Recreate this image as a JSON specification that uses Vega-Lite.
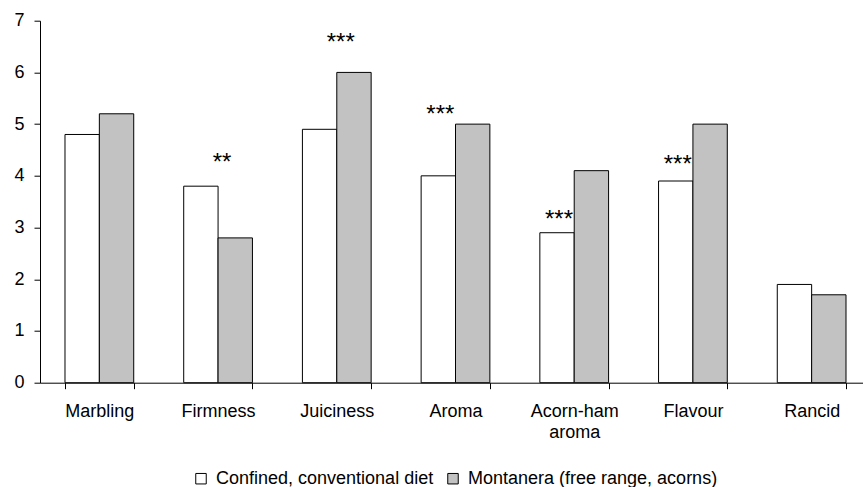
{
  "$schema": "https://vega.github.io/schema/vega-lite/v6.json",
  "autosize": {"type": "none"},
  "width": 823,
  "height": 362,
  "padding": {"left": 40, "top": 20.7, "right": 0, "bottom": 104.3},
  "background": "white",
  "config": {
    "font": "Liberation Sans",
    "view": {"stroke": null},
    "axis": {"labelFont": "Liberation Sans", "labelColor": "black", "domainColor": "black", "tickColor": "black", "domainWidth": 1, "tickWidth": 1, "grid": false}
  },
  "datasets": {
    "bars": [
      {"attribute": "Marbling", "group": "Confined, conventional diet", "score": 4.8},
      {"attribute": "Marbling", "group": "Montanera (free range, acorns)", "score": 5.2},
      {"attribute": "Firmness", "group": "Confined, conventional diet", "score": 3.8},
      {"attribute": "Firmness", "group": "Montanera (free range, acorns)", "score": 2.8},
      {"attribute": "Juiciness", "group": "Confined, conventional diet", "score": 4.9},
      {"attribute": "Juiciness", "group": "Montanera (free range, acorns)", "score": 6.0},
      {"attribute": "Aroma", "group": "Confined, conventional diet", "score": 4.0},
      {"attribute": "Aroma", "group": "Montanera (free range, acorns)", "score": 5.0},
      {"attribute": "Acorn-ham aroma", "group": "Confined, conventional diet", "score": 2.9},
      {"attribute": "Acorn-ham aroma", "group": "Montanera (free range, acorns)", "score": 4.1},
      {"attribute": "Flavour", "group": "Confined, conventional diet", "score": 3.9},
      {"attribute": "Flavour", "group": "Montanera (free range, acorns)", "score": 5.0},
      {"attribute": "Rancid", "group": "Confined, conventional diet", "score": 1.9},
      {"attribute": "Rancid", "group": "Montanera (free range, acorns)", "score": 1.7}
    ],
    "stars": [
      {"attribute": "Firmness", "sig": "**", "pos": 4.11, "over": "centre"},
      {"attribute": "Juiciness", "sig": "***", "pos": 6.44, "over": "centre"},
      {"attribute": "Aroma", "sig": "***", "pos": 5.04, "over": "Confined, conventional diet"},
      {"attribute": "Acorn-ham aroma", "sig": "***", "pos": 3.01, "over": "Confined, conventional diet"},
      {"attribute": "Flavour", "sig": "***", "pos": 4.08, "over": "Confined, conventional diet"}
    ]
  },
  "layer": [
    {
      "data": {"name": "bars"},
      "mark": {"type": "bar", "stroke": "black", "strokeWidth": 1},
      "encoding": {
        "x": {
          "field": "attribute", "type": "nominal", "sort": null,
          "scale": {"range": [0, 831], "paddingInner": 0.421, "paddingOuter": 0.2105},
          "axis": {"title": null, "labelAngle": 0, "labelFontSize": 18, "tickSize": 6, "tickBand": "extent", "labelPadding": 14, "labelLineHeight": 21,
                   "labelExpr": "datum.label == 'Acorn-ham aroma' ? ['Acorn-ham', 'aroma'] : datum.label"}
        },
        "xOffset": {"field": "group", "type": "nominal", "sort": null, "scale": {"paddingInner": 0, "paddingOuter": 0}},
        "y": {
          "field": "score", "type": "quantitative",
          "scale": {"domain": [0, 7], "nice": false},
          "axis": {"title": null, "values": [0, 1, 2, 3, 4, 5, 6, 7], "labelFontSize": 18, "tickSize": 6, "labelPadding": 10, "format": "d"}
        },
        "fill": {
          "field": "group", "type": "nominal", "sort": null,
          "scale": {"domain": ["Confined, conventional diet", "Montanera (free range, acorns)"], "range": ["#ffffff", "#c2c2c2"]},
          "legend": {"title": null, "orient": "none", "direction": "horizontal", "legendX": 152, "legendY": 449, "padding": 0,
                     "symbolType": "square", "symbolSize": 110, "symbolStrokeColor": "black", "symbolStrokeWidth": 1,
                     "labelFontSize": 18, "labelColor": "black", "labelFont": "Liberation Sans", "labelOffset": 6, "columnPadding": 10, "labelLimit": 400}
        }
      }
    },
    {
      "data": {"name": "stars"},
      "transform": [{"filter": "datum.over == 'centre'"}],
      "mark": {"type": "text", "fontSize": 24, "color": "black", "baseline": "alphabetic", "dx": 4},
      "encoding": {
        "x": {"field": "attribute", "type": "nominal", "sort": null},
        "y": {"field": "pos", "type": "quantitative"},
        "text": {"field": "sig"}
      }
    },
    {
      "data": {"name": "stars"},
      "transform": [{"filter": "datum.over != 'centre'"}],
      "mark": {"type": "text", "fontSize": 24, "color": "black", "baseline": "alphabetic", "dx": 2},
      "encoding": {
        "x": {"field": "attribute", "type": "nominal", "sort": null},
        "xOffset": {"field": "over", "type": "nominal"},
        "y": {"field": "pos", "type": "quantitative"},
        "text": {"field": "sig"}
      }
    }
  ]
}
